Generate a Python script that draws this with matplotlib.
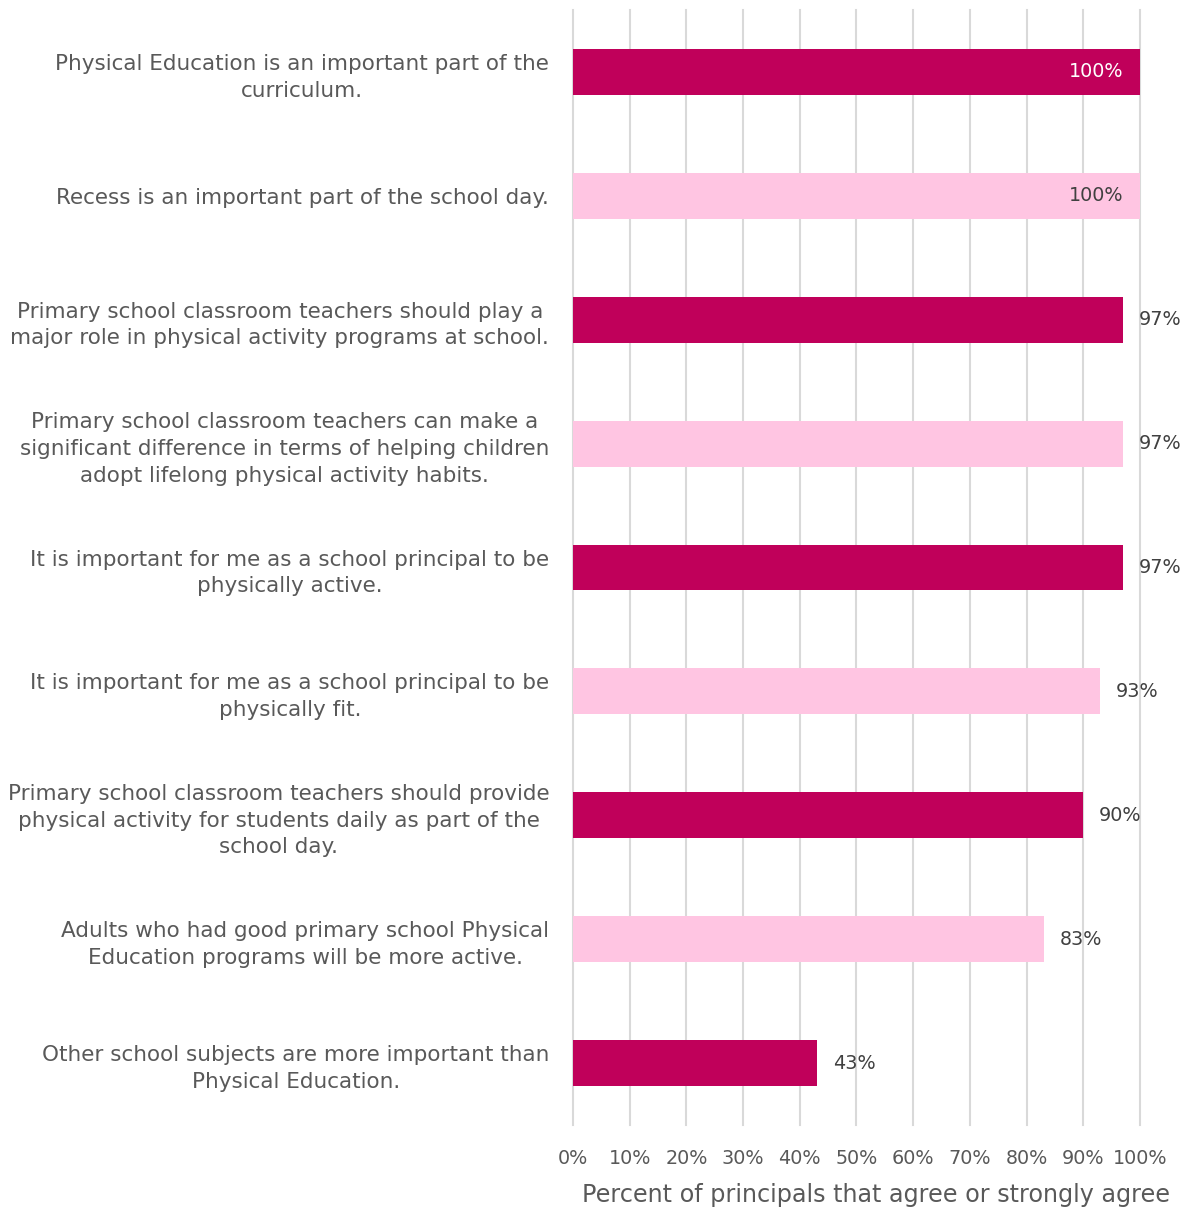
import matplotlib
matplotlib.use("Agg")
import matplotlib.pyplot as plt
from matplotlib.ticker import FuncFormatter

statements = [
    "Physical Education is an important part of the\ncurriculum.",
    "Recess is an important part of the school day.",
    "Primary school classroom teachers should play a\nmajor role in physical activity programs at school.",
    "Primary school classroom teachers can make a\nsignificant difference in terms of helping children\nadopt lifelong physical activity habits.",
    "It is important for me as a school principal to be\nphysically active.",
    "It is important for me as a school principal to be\nphysically fit.",
    "Primary school classroom teachers should provide\nphysical activity for students daily as part of the\nschool day.",
    "Adults who had good primary school Physical\nEducation programs will be more active.",
    "Other school subjects are more important than\nPhysical Education.",
]
agree_pct = [100, 100, 97, 97, 97, 93, 90, 83, 43]
x_ticks = [0, 10, 20, 30, 40, 50, 60, 70, 80, 90, 100]

dark = "#C0005A"
light = "#FFC5E2"
text_gray = "#595959"
label_gray = "#404040"

plt.rcParams["font.family"] = ["DejaVu Sans"]

fig = plt.figure(figsize=(11.88, 12.09), dpi=100)
ax = fig.add_axes([0.4823, 0.0695, 0.4773, 0.9222])

ypos = list(range(len(statements)))
colors = [dark if i % 2 == 0 else light for i in ypos]
ax.barh(ypos, agree_pct, height=0.37, color=colors, zorder=3)

ax.set_ylim(len(statements) - 0.5, -0.5)
ax.set_xlim(0, 100)
ax.set_xticks(x_ticks)
ax.xaxis.set_major_formatter(FuncFormatter(lambda v, p: f"{v:.0f}%"))
ax.grid(axis="x", color="#D9D9D9", linewidth=1.5, zorder=0)
ax.grid(axis="y", visible=False)
for gl in ax.get_xgridlines():
    gl.set_clip_on(False)
for s in ax.spines.values():
    s.set_visible(False)

ax.set_yticks(ypos)
ax.set_yticklabels(statements, fontsize=15.5, color=text_gray,
                   ha="right", multialignment="center", linespacing=1.42)
ax.tick_params(axis="y", length=0, pad=17)
ax.tick_params(axis="x", length=0, pad=17, labelsize=13.8, labelcolor=text_gray)

for y, v, c in zip(ypos, agree_pct, colors):
    label = f"{v}%"
    if v >= 99:
        ax.text(v - 3, y, label, ha="right", va="center", fontsize=13.8,
                color="white" if c == dark else label_gray, zorder=4)
    else:
        ax.text(v + 2.8, y, label, ha="left", va="center", fontsize=13.8,
                color=label_gray, zorder=4)

fig.text(0.7374, 0.006, "Percent of principals that agree or strongly agree",
         ha="center", va="baseline", fontsize=17.2, color=text_gray)

fig.savefig("out.png", dpi=100)
